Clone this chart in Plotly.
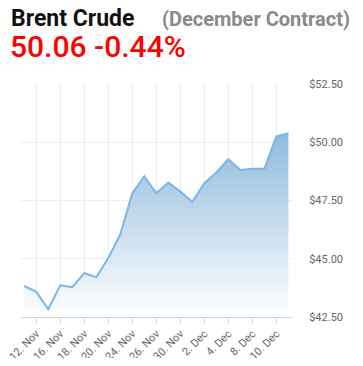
import plotly.graph_objects as go

dates = ["11. Nov", "12. Nov", "13. Nov", "16. Nov", "17. Nov", "18. Nov", "19. Nov",
         "20. Nov", "23. Nov", "24. Nov", "25. Nov", "26. Nov", "27. Nov", "30. Nov",
         "1. Dec", "2. Dec", "3. Dec", "4. Dec", "7. Dec", "8. Dec", "9. Dec",
         "10. Dec", "11. Dec"]
prices = [43.83, 43.58, 42.83, 43.86, 43.78, 44.38, 44.21,
          45.03, 46.05, 47.81, 48.54, 47.81, 48.27, 47.88,
          47.44, 48.24, 48.70, 49.27, 48.81, 48.86, 48.87,
          50.25, 50.39]
tick_labels = ["12. Nov", "16. Nov", "18. Nov", "20. Nov", "24. Nov", "26. Nov",
               "30. Nov", "2. Dec", "4. Dec", "8. Dec", "10. Dec"]
y_ticks = [42.5, 45.0, 47.5, 50.0, 52.5]

title = "Brent Crude"
subtitle = "(December Contract)"
quote = "50.06 -0.44%"

# page body has an 8px margin; work in page pixels and convert
OFF = 8
W, H = 363 - 2 * OFF, 366 - 2 * OFF
plot_left, plot_right, plot_top, plot_bottom = 21, 292, 84, 317
L = plot_left - OFF
R = W - (plot_right - OFF)
T = plot_top - OFF
B = H - (plot_bottom - OFF)

fig = go.Figure()
fig.add_trace(go.Scatter(
    x=dates, y=prices, mode="lines",
    line=dict(color="#7cb5ec", width=2),
    fill="tozeroy",
    fillgradient=dict(type="vertical", start=42.5, stop=50.5,
                      colorscale=[[0, "rgba(255,255,255,1)"],
                                  [1, "rgba(140,186,220,1)"]]),
    hoverinfo="skip",
))

fig.update_layout(
    width=W, height=H,
    margin=dict(l=L, r=R, t=T, b=B, autoexpand=False),
    paper_bgcolor="white", plot_bgcolor="white",
    showlegend=False,
    font=dict(family="Roboto, sans-serif", color="#666666", size=11),
    xaxis=dict(
        type="category", range=[-0.27, 22.3], automargin=False,
        tickmode="array", tickvals=tick_labels, ticktext=tick_labels,
        tickangle=-45, showgrid=True, gridcolor="#ededed", gridwidth=1,
        showline=True, linecolor="#ccd6eb", linewidth=1,
        ticks="outside", ticklen=5, tickcolor="#ccd6eb",
        tickfont=dict(size=11, color="#666666"), zeroline=False,
    ),
    yaxis=dict(
        side="right", range=[42.5, 52.5], tickvals=y_ticks, automargin=False,
        ticktext=["$%.2f" % v for v in y_ticks],
        showgrid=True, gridcolor="#ededed", gridwidth=1, zeroline=False,
        ticks="outside", ticklen=14, tickcolor="rgba(0,0,0,0)",
        tickfont=dict(size=11, color="#666666"), showline=False,
    ),
)

pw = W - L - R
ph = H - T - B
def px(x):
    return (x - OFF - L) / pw
def py(y):
    return (H - B - (y - OFF)) / ph

fig.add_annotation(text="<b>" + title + "</b>", xref="paper", yref="paper",
                   x=px(10), y=py(19), xanchor="left", yanchor="middle",
                   showarrow=False, borderpad=0,
                   font=dict(family="Roboto", size=23, color="#111111"))
fig.add_annotation(text="<b>" + subtitle + "</b>", xref="paper", yref="paper",
                   x=px(161), y=py(19), xanchor="left", yanchor="middle",
                   showarrow=False, borderpad=0,
                   font=dict(family="Roboto", size=20, color="#8a8a8a"))
fig.add_annotation(text=quote, xref="paper", yref="paper",
                   x=px(9), y=py(47), xanchor="left", yanchor="middle",
                   showarrow=False, borderpad=0,
                   font=dict(family="Roboto", size=30, color="#ff0000", weight=500))

fig.write_html("out.html")
